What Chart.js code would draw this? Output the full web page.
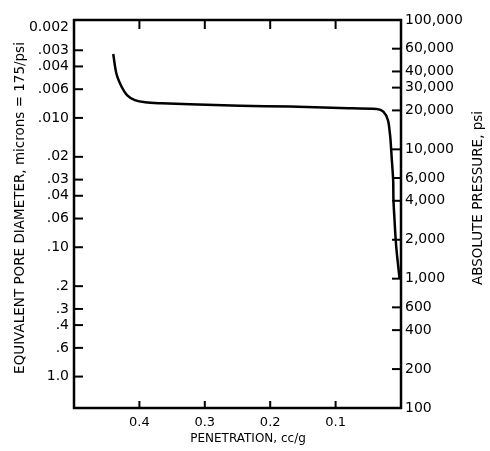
<!DOCTYPE html>
<html>
<head>
<meta charset="utf-8">
<script src="https://cdn.jsdelivr.net/npm/chart.js@4.4.1/dist/chart.umd.min.js"></script>
<style>
body { margin: 0; background: #fff; }
#wrap { width: 490px; height: 451px; position: relative; }
</style>
</head>
<body>
<div id="wrap"><canvas id="chart"></canvas></div>
<script>
// intrusion curve: penetration (cc/g) vs absolute pressure (psi)
const penetration = [0.440, 0.435, 0.427, 0.419, 0.407, 0.391, 0.366, 0.323, 0.246, 0.170, 0.093, 0.037, 0.027, 0.020, 0.017, 0.016, 0.014, 0.012, 0.0115, 0.0099, 0.0081, 0.0061, 0.0041, 0.0023];
const pressure = [54600, 38200, 30300, 26300, 24050, 23100, 22700, 22300, 21750, 21400, 20880, 20500, 19540, 16840, 13300, 11800, 8270, 5790, 4050, 2840, 1990, 1520, 1230, 1010];

const penTicks = [0.1, 0.2, 0.3, 0.4];
const diamTicks = [0.002, 0.003, 0.004, 0.006, 0.010, 0.02, 0.03, 0.04, 0.06, 0.10, 0.2, 0.3, 0.4, 0.6, 1.0];
const diamLabels = ["0.002", ".003", ".004", ".006", ".010", ".02", ".03", ".04", ".06", ".10", ".2", ".3", ".4", ".6", "1.0"];
const psiTicks = [100000, 60000, 40000, 30000, 20000, 10000, 6000, 4000, 2000, 1000, 600, 400, 200, 100];
const psiLabels = ["100,000", "60,000", "40,000", "30,000", "20,000", "10,000", "6,000", "4,000", "2,000", "1,000", "600", "400", "200", "100"];

const points = penetration.map(function(p, i) {
    return { x: p, y: pressure[i] };
});

const tickFont = { family: "DejaVu Sans", size: 14 };

/* frame, inward tick marks and axis titles */
const framePlugin = {
    id: "frame",
    afterDraw: function(chart) {
        const ctx = chart.ctx;
        const a = chart.chartArea;
        const xs = chart.scales.x;
        const yl = chart.scales.diam;
        const yr = chart.scales.psi;
        ctx.save();
        ctx.strokeStyle = "#000";
        ctx.lineWidth = 2;
        penTicks.forEach(function(v) {
            const px = xs.getPixelForValue(v);
            ctx.beginPath();
            ctx.moveTo(px, a.top);
            ctx.lineTo(px, a.top + 9);
            ctx.moveTo(px, a.bottom);
            ctx.lineTo(px, a.bottom - 7);
            ctx.stroke();
        });
        diamTicks.slice(1).forEach(function(v) {
            const py = yl.getPixelForValue(v);
            ctx.beginPath();
            ctx.moveTo(a.left, py);
            ctx.lineTo(a.left + 9, py);
            ctx.stroke();
        });
        psiTicks.slice(1, -1).forEach(function(v) {
            const py = yr.getPixelForValue(v);
            ctx.beginPath();
            ctx.moveTo(a.right, py);
            ctx.lineTo(a.right - 9, py);
            ctx.stroke();
        });
        ctx.lineWidth = 2.5;
        ctx.strokeRect(a.left, a.top, a.right - a.left, a.bottom - a.top);

        ctx.fillStyle = "#000";
        ctx.font = "12px 'DejaVu Sans'";
        ctx.textAlign = "center";
        ctx.textBaseline = "middle";
        ctx.fillText("PENETRATION, cc/g", 248, 439);

        ctx.font = "13.5px 'DejaVu Sans'";
        ctx.translate(20, 208);
        ctx.rotate(-Math.PI / 2);
        ctx.fillText("EQUIVALENT PORE DIAMETER, microns = 175/psi", 0, 0);
        ctx.restore();

        ctx.save();
        ctx.fillStyle = "#000";
        ctx.font = "13.5px 'DejaVu Sans'";
        ctx.textAlign = "center";
        ctx.textBaseline = "middle";
        ctx.translate(478, 198);
        ctx.rotate(-Math.PI / 2);
        ctx.fillText("ABSOLUTE PRESSURE, psi", 0, 0);
        ctx.restore();
    }
};

new Chart(document.getElementById("chart"), {
    type: "scatter",
    data: {
        datasets: [{
            data: points,
            showLine: true,
            borderColor: "#000",
            borderWidth: 2.5,
            pointRadius: 0,
            tension: 0.3,
            xAxisID: "x",
            yAxisID: "psi",
        }, ],
    },
    options: {
        responsive: true,
        maintainAspectRatio: false,
        animation: false,
        layout: {
            padding: { top: 20, left: 0, right: 0, bottom: 0 },
        },
        plugins: {
            legend: { display: false },
            tooltip: { enabled: false },
        },
        scales: {
            x: {
                type: "linear",
                position: "bottom",
                min: 0,
                max: 0.5,
                reverse: true,
                grid: { display: false, drawTicks: false },
                border: { display: false },
                afterBuildTicks: function(scale) {
                    scale.ticks = penTicks.map(function(v) { return { value: v }; });
                },
                afterFit: function(scale) { scale.height = 43; },
                ticks: {
                    autoSkip: false,
                    maxRotation: 0,
                    padding: 7,
                    color: "#000",
                    font: { family: "DejaVu Sans", size: 13 },
                    callback: function(v) { return v.toFixed(1); },
                },
            },
            diam: {
                type: "logarithmic",
                position: "left",
                min: 0.00175,
                max: 1.75,
                reverse: true,
                grid: { display: false, drawTicks: false },
                border: { display: false },
                afterBuildTicks: function(scale) {
                    scale.ticks = diamTicks.map(function(v) { return { value: v }; });
                },
                afterFit: function(scale) { scale.width = 74; },
                ticks: {
                    autoSkip: false,
                    padding: 5,
                    color: "#000",
                    font: tickFont,
                    callback: function(v, i) { return diamLabels[i]; },
                },
            },
            psi: {
                type: "logarithmic",
                position: "right",
                min: 100,
                max: 100000,
                grid: { display: false, drawTicks: false },
                border: { display: false },
                afterBuildTicks: function(scale) {
                    scale.ticks = psiTicks.map(function(v) { return { value: v }; });
                },
                afterFit: function(scale) { scale.width = 89; },
                ticks: {
                    autoSkip: false,
                    padding: 4,
                    color: "#000",
                    font: tickFont,
                    callback: function(v, i) { return psiLabels[i]; },
                },
            },
        },
    },
    plugins: [framePlugin],
});
</script>
</body>
</html>
